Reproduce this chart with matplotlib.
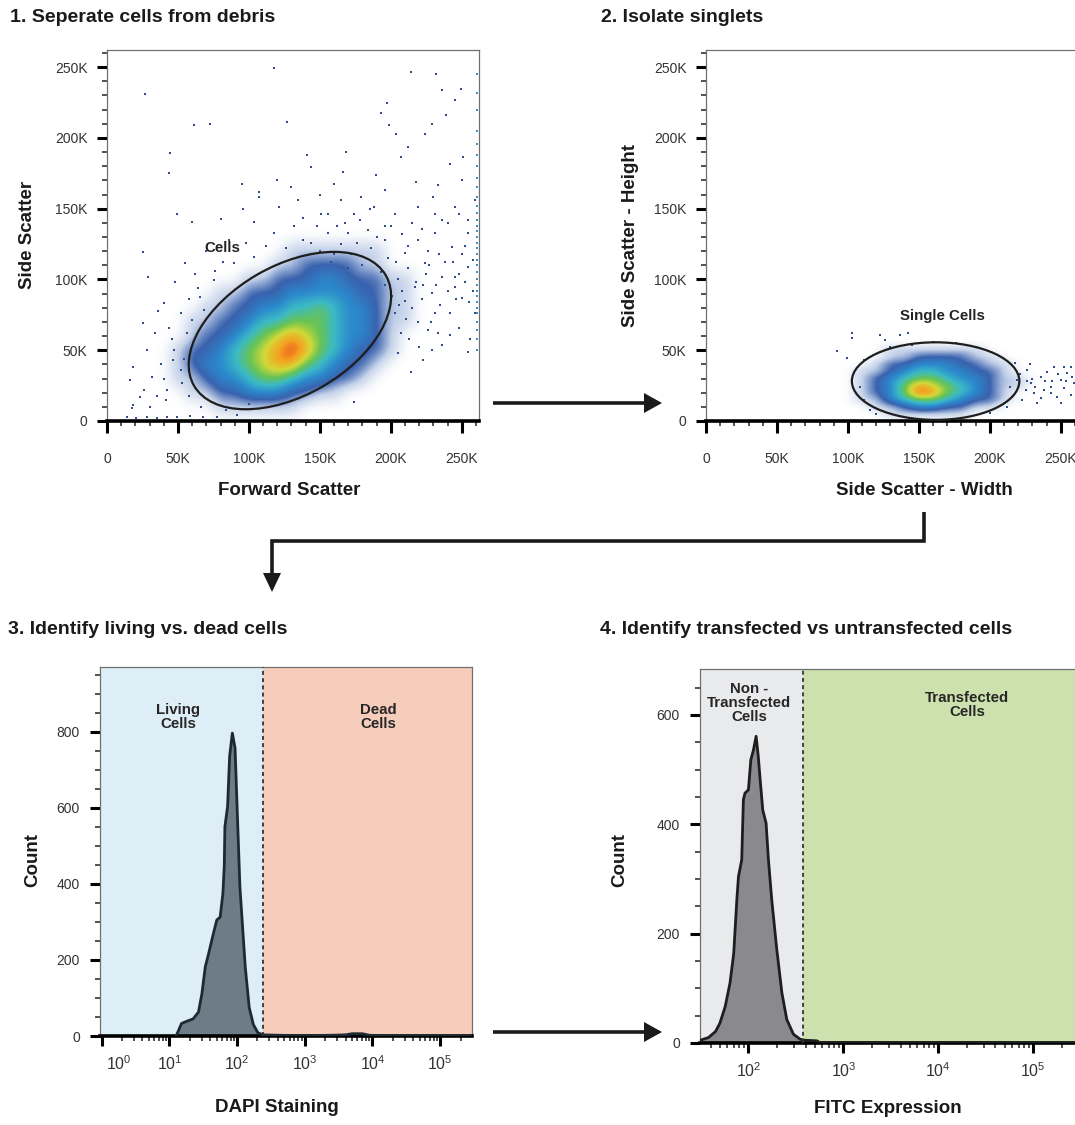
import numpy as np
import matplotlib
matplotlib.use('Agg')
import matplotlib.pyplot as plt
import matplotlib.transforms as mtransforms
from matplotlib.colors import LinearSegmentedColormap
from matplotlib.patches import Ellipse, Polygon
from matplotlib.ticker import (MultipleLocator, FixedLocator, FuncFormatter,
                               LogLocator, NullFormatter)

plt.rcParams['font.family'] = ['Liberation Sans', 'DejaVu Sans']
plt.rcParams['mathtext.fontset'] = 'custom'
plt.rcParams['mathtext.rm'] = 'Liberation Sans'
plt.rcParams['mathtext.it'] = 'Liberation Sans:italic'
plt.rcParams['mathtext.bf'] = 'Liberation Sans:bold'

# ---------------- data ----------------
# panel 1: forward scatter vs side scatter, values in K
fsc_bins = [50, 60, 70, 80, 90, 100, 110, 120, 130, 140, 150, 160, 170, 180, 190, 200, 210, 220]
ssc_bins = [120, 110, 100, 90, 80, 70, 60, 50, 40, 30, 20, 10]
# density level per bin (0 empty .. 8 densest)
fsc_ssc_density = [
    [0, 0, 0, 0, 0, 0, 0, 0, 1, 1, 1, 1, 1, 1, 1, 0, 0, 0],
    [0, 0, 0, 0, 0, 0, 0, 1, 1, 2, 2, 2, 2, 1, 1, 0, 0, 0],
    [0, 0, 0, 0, 0, 1, 1, 2, 2, 2, 3, 3, 2, 2, 2, 1, 1, 0],
    [0, 0, 0, 1, 1, 2, 2, 2, 3, 3, 3, 3, 3, 2, 2, 1, 1, 0],
    [0, 0, 1, 1, 2, 2, 3, 3, 4, 4, 5, 4, 3, 3, 2, 1, 1, 0],
    [0, 1, 1, 2, 2, 3, 4, 4, 5, 5, 5, 4, 3, 3, 2, 1, 1, 0],
    [0, 1, 2, 2, 3, 4, 5, 6, 7, 6, 5, 4, 3, 3, 2, 1, 0, 0],
    [1, 2, 2, 3, 4, 5, 6, 7, 8, 7, 5, 4, 3, 2, 2, 1, 0, 0],
    [1, 2, 3, 3, 4, 5, 6, 7, 7, 5, 4, 3, 2, 2, 1, 0, 0, 0],
    [1, 1, 2, 3, 3, 4, 5, 5, 4, 3, 3, 2, 2, 1, 0, 0, 0, 0],
    [0, 1, 1, 2, 2, 3, 3, 3, 2, 2, 1, 1, 0, 0, 0, 0, 0, 0],
    [0, 0, 0, 1, 1, 1, 1, 1, 1, 0, 0, 0, 0, 0, 0, 0, 0, 0],
]
# scattered single events outside the main cloud (FSC, SSC)
fsc_ssc_sparse = [
    (26.9, 231), (117.8, 249.4), (214, 246.6), (232, 245), (249.5, 234.9), (236, 233.7),
    (197.5, 224.7), (193.3, 217.7), (245, 226.6), (61, 209), (72.4, 210), (127, 211),
    (199, 209), (204, 203), (239, 216), (229, 210), (44.6, 189.7), (43.9, 175.3),
    (141, 187.8), (143.7, 179.5), (168.5, 190), (166, 176), (212, 193.6), (189.7, 173.7),
    (207.4, 186.6), (224, 203), (242, 181.9), (251, 186.6), (95.3, 167.8), (107, 161.9),
    (107, 158.4), (129.6, 165.4), (134.3, 156), (160.2, 167.8), (179, 158.4), (195.6, 163),
    (218, 169), (233.4, 166.6), (250, 170), (259, 156), (80, 142.4), (60, 140.7),
    (49.3, 146.6), (103.6, 140.7), (121, 151.3), (137.8, 143.1), (150.8, 146.6), (165, 156),
    (174.4, 146.6), (188.5, 151.3), (202.7, 146.6), (219, 151.3), (231, 146.6), (245, 151.3),
    (254.7, 141.9), (25.7, 119.5), (29.2, 101.9), (55.2, 111.3), (65.8, 87.8), (39.9, 83.1),
    (25.7, 69), (34, 61.9), (47, 50.1), (46.5, 43), (28, 50.1), (18.6, 38.3), (31.6, 31.3),
    (16.3, 29), (23.4, 17.2), (18.6, 11.3), (13.9, 3), (20.4, 2), (28.1, 3), (35, 2),
    (42, 2.7), (49.3, 3), (58.7, 3.3), (68, 3), (77.4, 2.8), (41.5, 14.8), (17.4, 9),
    (52.9, 26.6), (91.7, 4.2), (174.4, 13.6), (214.5, 34.8), (222.8, 43), (228.7, 50.1),
    (254.6, 48.9), (241.7, 60.7), (219, 70), (207.4, 61.9), (202.7, 76), (210, 85),
    (216.9, 94.8), (228.7, 90.1), (235.8, 101.9), (245.2, 94.8), (254.6, 108.9), (250, 87),
    (259.4, 76), (231, 76), (224, 111.3), (209.8, 118.4), (219, 127.8), (231, 132.5),
    (242.8, 123.1), (254.6, 132.5), (195.6, 127.8), (183.9, 134.8), (169.7, 132.5),
    (155.5, 132.5), (137.8, 127.8), (117.8, 132.5), (103.6, 116), (89.4, 111.3), (75.3, 99.5),
    (68.2, 78.4), (60, 71.5), (56.4, 61.9), (51.8, 36), (42.3, 21.9), (35.2, 18),
    (150, 120), (158, 112), (165, 125), (172, 118), (180, 110), (186, 122), (193, 105),
    (198, 115), (205, 100), (212, 108), (218, 98), (225, 104), (232, 96), (238, 112),
    (245, 102), (252, 98), (258, 92), (208, 92), (215, 80), (222, 86), (228, 70), (235, 82),
    (242, 76), (248, 66), (256, 58), (213, 58), (220, 52), (205, 48), (236, 54), (246, 86),
    (190, 130), (200, 138), (178, 142), (162, 138), (148, 138), (170, 108), (160, 118),
    (226, 120), (240, 140), (250, 118), (215, 140), (230, 158), (185, 150), (150, 160),
    (120, 170), (96, 150), (86, 128), (70, 120), (48, 98), (58, 86), (36, 78), (62, 104),
    (44, 66), (38, 40), (26, 22), (30, 10), (58, 18), (66, 10), (84, 8), (100, 12),
    (196, 96), (201, 88), (206, 82), (211, 72), (226, 64), (233, 62), (240, 92), (248, 104),
    (255, 84), (223, 96), (227, 110), (234, 118), (244, 112), (252, 124), (258, 114),
    (212, 124), (204, 112), (196, 138), (208, 132), (222, 136), (236, 142), (248, 146),
    (176, 126), (168, 140), (156, 146), (144, 126), (132, 138), (126, 122), (112, 124),
    (98, 126), (82, 112), (76, 106), (64, 94), (52, 76), (46, 58), (40, 30), (54, 44),
]
# events piled up at the top of the FSC range
fsc_max_ssc = [245, 232, 220, 205, 196, 188, 180, 172, 165, 158, 152, 147, 142, 138, 134,
               130, 126, 122, 118, 114, 110, 105, 100, 96, 92, 88, 84, 80, 76, 70, 64, 58, 50]
fsc_max = 261.0
cells_gate_center = (128.9, 63.9)
cells_gate_size = (156.0, 91.5)
cells_gate_angle = 30

# panel 2: side scatter width vs height, values in K
ssw_bins = [110, 120, 130, 140, 150, 160, 170, 180, 190, 200, 210, 220]
ssh_bins = [50, 45, 40, 35, 30, 25, 20, 15, 10, 5]
ssw_ssh_density = [
    [0, 0, 1, 1, 1, 1, 1, 1, 1, 0, 0, 0],
    [0, 0, 1, 1, 2, 2, 2, 2, 1, 1, 0, 0],
    [0, 1, 2, 2, 3, 3, 3, 2, 2, 1, 1, 0],
    [1, 1, 2, 3, 4, 4, 3, 3, 2, 2, 1, 0],
    [1, 2, 3, 4, 5, 5, 4, 3, 3, 2, 1, 1],
    [1, 2, 3, 5, 7, 6, 5, 4, 3, 2, 1, 1],
    [1, 2, 3, 5, 8, 7, 5, 4, 3, 2, 1, 0],
    [1, 1, 3, 4, 5, 5, 4, 3, 2, 2, 1, 0],
    [0, 1, 1, 2, 3, 3, 2, 2, 1, 1, 0, 0],
    [0, 0, 1, 1, 1, 1, 1, 1, 0, 0, 0, 0],
]
ssw_ssh_sparse = [
    (102.9, 61.9), (102.9, 58.4), (122.9, 60.7), (126.4, 57.2), (137, 60.7), (142.3, 61.9),
    (145, 53.6), (92.3, 49.2), (99.3, 44.2), (111, 43), (108.7, 24.2), (111, 15), (115.8, 7.8),
    (226.5, 36), (228.8, 26.6), (231, 19.5), (235.8, 31.3), (240.5, 34.8), (242.8, 24.2),
    (247.5, 17.2), (249.9, 29), (252.2, 23), (254.6, 33.6), (257, 18.4), (259.3, 26.6),
    (223, 14.8), (233.4, 12.5), (245.2, 38.3), (238.2, 21.9), (225.3, 21.9), (249.9, 12.5),
    (219.4, 29), (218, 40.8), (212.4, 10.1), (252.2, 38.3), (257, 38.3), (230, 30),
    (244, 28), (236, 16), (254, 28), (228, 40), (261, 22), (216, 18), (221, 33), (243, 20),
    (232, 24), (248, 33), (258, 31), (239, 28), (226, 28), (261, 15), (214, 24),
    (120, 5), (200, 6), (190, 52), (176, 55), (160, 56), (130, 52),
]
singlet_gate_center = (161.8, 28.2)
singlet_gate_size = (118.0, 54.8)

# panel 3: DAPI histogram
dapi_value = [12.6, 15.1, 18.2, 22.4, 26.9, 30.2, 33.9, 38.0, 44.7, 50.1, 56.2, 61.7, 64.6,
              66.1, 72.4, 77.6, 85.1, 93.3, 100, 110, 132, 151, 174, 204, 245, 398, 1000,
              2512, 3981, 5012, 7079, 8913, 12589, 31623, 100000, 281838]
dapi_count = [0, 33, 39, 45, 63, 111, 182, 217, 270, 305, 313, 375, 446, 551, 604, 736, 797,
              758, 604, 393, 182, 75, 30, 8, 3, 2, 1, 2, 3, 6, 6, 2, 1, 1, 1, 0]
dapi_split = 242

# panel 4: FITC histogram
fitc_value = [31, 38, 45, 50, 57, 64, 70, 75.5, 78.5, 85, 88.5, 92, 100, 106, 113, 120.5,
              127, 133, 141.6, 153.5, 162.5, 176, 199, 225, 253.5, 298, 350, 395, 525, 562,
              3162, 281838]
fitc_count = [5, 10, 21, 36, 67, 110, 164, 262, 304, 335, 445, 457, 463, 518, 536, 561, 524,
              481, 426, 402, 335, 262, 171, 92, 43, 16, 7, 5, 4, 1, 1, 0]
fitc_split = 380

# ---------------- figure ----------------
W, H = 1075, 1125
fig = plt.figure(figsize=(W / 100, H / 100), dpi=100)


def box(x0, y0, x1, y1):
    return [x0 / W, 1 - y1 / H, (x1 - x0) / W, (y1 - y0) / H]


dens_cmap = LinearSegmentedColormap.from_list(
    'flow', ['#ffffff', '#c2d0e8', '#3a62ae', '#2b88cc', '#3bbac6',
             '#66c356', '#d3d937', '#f5a020', '#e3301b'])

TICK_COL = '#333333'
LBL = dict(fontsize=13.5, fontweight='bold', color='#1a1a1a')


def frame(ax):
    for s in ['top', 'right', 'left']:
        ax.spines[s].set_color('#707070')
        ax.spines[s].set_linewidth(0.9)
    ax.spines['bottom'].set_color('black')
    ax.spines['bottom'].set_linewidth(2.6)
    ax.tick_params(which='major', direction='out', color='black', width=2.2,
                   labelsize=10, labelcolor=TICK_COL)
    ax.tick_params(which='minor', direction='out', color='#222222', width=1.1, length=3.8)
    ax.tick_params(axis='y', which='major', length=7.5)
    ax.tick_params(axis='x', which='major', length=8)


def k_fmt(v, pos):
    return '0' if v == 0 else '%dK' % round(v)


def scatter_panel(ax, grid, xb, yb, sparse, xlabel, ylabel, xl_pos, yl_pos):
    # a ring of empty bins around the grid so the cloud fades out to white
    grid = np.pad(np.array(grid, dtype=float), 1)
    dx = xb[1] - xb[0]
    dy = yb[0] - yb[1]
    ax.imshow(grid, extent=(xb[0] - 1.5 * dx, xb[-1] + 1.5 * dx,
                            yb[-1] - 1.5 * dy, yb[0] + 1.5 * dy),
              origin='upper', cmap=dens_cmap, vmin=0, vmax=8, interpolation='bicubic',
              aspect='auto', zorder=1)
    sp = np.array(sparse)
    ax.scatter(sp[:, 0], sp[:, 1], s=4, marker='s', color='#2f4f8c', linewidths=0, zorder=2)
    ax.set_xlim(0, 262.144)
    ax.set_ylim(0, 262.144)
    frame(ax)
    for axis in (ax.xaxis, ax.yaxis):
        axis.set_major_locator(MultipleLocator(50))
        axis.set_minor_locator(MultipleLocator(10))
        axis.set_major_formatter(FuncFormatter(k_fmt))
    ax.tick_params(axis='x', which='major', length=8.5, pad=14)
    ax.tick_params(axis='y', which='major', pad=6.5)
    ax.set_xlabel(xlabel, va='center', **LBL)
    ax.set_ylabel(ylabel, va='center', **LBL)
    ax.xaxis.set_label_coords(*xl_pos)
    ax.yaxis.set_label_coords(*yl_pos)


# panel 1
ax1 = fig.add_axes(box(107, 50, 479, 421))
scatter_panel(ax1, fsc_ssc_density, fsc_bins, ssc_bins, fsc_ssc_sparse,
              'Forward Scatter', 'Side Scatter', (0.489, -0.186), (-0.215, 0.501))
ax1.scatter([fsc_max] * len(fsc_max_ssc), fsc_max_ssc, s=4, marker='s', color='#3d8fc4',
            linewidths=0, zorder=2)
ax1.add_patch(Ellipse(cells_gate_center, cells_gate_size[0], cells_gate_size[1],
                      angle=cells_gate_angle, fill=False, ec='#1e1e1e', lw=1.6, zorder=3))
ax1.text(81.4, 122, 'Cells', fontsize=10.8, fontweight='bold', color='#222222',
         ha='center', va='center', zorder=4)

# panel 2
ax2 = fig.add_axes(box(706, 50, 1078, 421))
scatter_panel(ax2, ssw_ssh_density, ssw_bins, ssh_bins, ssw_ssh_sparse,
              'Side Scatter - Width', 'Side Scatter - Height', (0.586, -0.186), (-0.204, 0.501))
ax2.add_patch(Ellipse(singlet_gate_center, singlet_gate_size[0], singlet_gate_size[1],
                      fill=False, ec='#1e1e1e', lw=1.6, zorder=3))
ax2.text(166.6, 74, 'Single Cells', fontsize=10.8, fontweight='bold', color='#222222',
         ha='center', va='center', zorder=4)


def log_fmt(v, pos):
    return r'$10^{%d}$' % round(np.log10(v))


def hist_panel(ax, xs, counts, split, xlim, ylim, ymajor, left_col, right_col, fill, edge,
               xlabel, xl_pos, yl_pos, xpad):
    ax.set_xscale('log')
    ax.axvspan(xlim[0], split, color=left_col, lw=0, zorder=0)
    ax.axvspan(split, xlim[1], color=right_col, lw=0, zorder=0)
    ax.fill_between(xs, counts, 0, color=fill, lw=0, zorder=2)
    ax.plot(xs, counts, color=edge, lw=2.0, zorder=3, solid_joinstyle='round')
    ax.axvline(split, color='#333333', lw=1.3, ls=(0, (2.2, 1.8)), zorder=4)
    ax.set_xlim(*xlim)
    ax.set_ylim(*ylim)
    frame(ax)
    ax.xaxis.set_major_locator(FixedLocator([1, 10, 100, 1e3, 1e4, 1e5]))
    ax.xaxis.set_minor_locator(LogLocator(base=10, subs=np.arange(2, 10)))
    ax.xaxis.set_major_formatter(FuncFormatter(log_fmt))
    ax.xaxis.set_minor_formatter(NullFormatter())
    ax.yaxis.set_major_locator(MultipleLocator(ymajor))
    ax.yaxis.set_minor_locator(MultipleLocator(50))
    ax.tick_params(axis='x', which='major', length=7, pad=xpad, labelsize=11.5)
    ax.tick_params(axis='y', which='major', pad=7)
    ax.set_xlabel(xlabel, va='center', **LBL)
    ax.set_ylabel('Count', va='center', **LBL)
    ax.xaxis.set_label_coords(*xl_pos)
    ax.yaxis.set_label_coords(*yl_pos)


reg = dict(fontsize=10.8, fontweight='bold', color='#262626', ha='center', va='center',
           linespacing=1.0, zorder=5)

# panel 3
ax3 = fig.add_axes(box(100, 667, 472, 1036))
hist_panel(ax3, dapi_value, dapi_count, dapi_split, (10 ** -0.025, 10 ** 5.47), (0, 971), 200,
           '#deeef6', '#f6cdbb', '#6d7c86', '#1c2a31', 'DAPI Staining',
           (0.476, -0.195), (-0.180, 0.477), 6)
ax3.text(13.4, 839, 'Living\nCells', **reg)
ax3.text(12000, 839, 'Dead\nCells', **reg)
# first decade label sits a little to the right of its tick
t0 = ax3.xaxis.get_major_ticks()[0]
t0.label1.set_transform(t0.label1.get_transform() +
                        mtransforms.ScaledTranslation(0.17, 0, fig.dpi_scale_trans))

# panel 4
ax4 = fig.add_axes(box(700, 669, 1076, 1043))
hist_panel(ax4, fitc_value, fitc_count, fitc_split, (10 ** 1.49, 10 ** 5.45), (0, 684), 200,
           '#e9eaec', '#cde1ae', '#8a8a8e', '#1e1e1e', 'FITC Expression',
           (0.5, -0.174), (-0.213, 0.489), 6)
ax4.text(101.6, 622, 'Non -\nTransfected\nCells', **reg)
ax4.text(20000, 618, 'Transfected\nCells', **reg)

# titles
ttl = dict(fontsize=14, fontweight='bold', color='#1a1a1a', va='center', ha='left')
fig.text(10 / W, 1 - 17 / H, '1. Seperate cells from debris', **ttl)
fig.text(601 / W, 1 - 17 / H, '2. Isolate singlets', **ttl)
fig.text(8 / W, 1 - 630 / H, '3. Identify living vs. dead cells', **ttl)
fig.text(600 / W, 1 - 630 / H, '4. Identify transfected vs untransfected cells', **ttl)

# connecting arrows in figure pixel space
ov = fig.add_axes([0, 0, 1, 1], zorder=-1)
ov.set_xlim(0, W)
ov.set_ylim(H, 0)
ov.axis('off')
acol = '#1a1a1a'
ov.plot([493, 646], [403, 403], color=acol, lw=2.6, solid_capstyle='butt')
ov.add_patch(Polygon([(644, 393), (662, 403), (644, 413)], closed=True, color=acol, lw=0))
ov.plot([924, 924, 272, 272], [512, 541, 541, 575], color=acol, lw=2.6,
        solid_capstyle='butt', solid_joinstyle='miter')
ov.add_patch(Polygon([(263, 573), (281, 573), (272, 592)], closed=True, color=acol, lw=0))
ov.plot([493, 646], [1032, 1032], color=acol, lw=2.6, solid_capstyle='butt')
ov.add_patch(Polygon([(644, 1022), (662, 1032), (644, 1042)], closed=True, color=acol, lw=0))

fig.savefig('out.png', dpi=100, facecolor='white')
